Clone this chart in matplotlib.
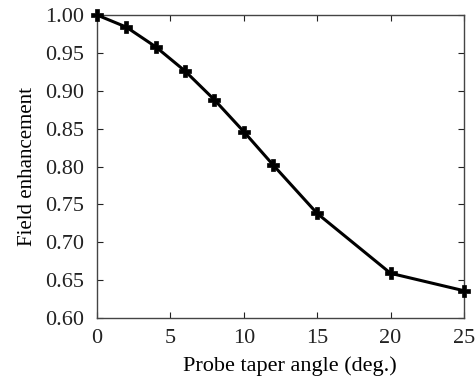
import matplotlib
matplotlib.use('Agg')
import matplotlib.pyplot as plt

# probe taper angle vs field enhancement
angle = [0, 2, 4, 6, 8, 10, 12, 15, 20, 25]
enhancement = [1.000, 0.984, 0.958, 0.926, 0.888, 0.846, 0.802, 0.738, 0.659, 0.636]

plt.rcParams['font.family'] = ['Liberation Serif', 'DejaVu Serif']

fig = plt.figure(figsize=(4.77, 3.77), dpi=100)
ax = fig.add_axes([97 / 477, 1 - 318 / 377, (464 - 97) / 477, (318 - 15) / 377])

ax.plot(angle, enhancement, color='black', linewidth=2.2, marker='P',
        markersize=8, markeredgewidth=0.5, clip_on=False, zorder=3)

ax.set_xlim(0, 25)
ax.set_ylim(0.60, 1.00)
ax.set_xticks([0, 5, 10, 15, 20, 25])
ax.set_yticks([0.60, 0.65, 0.70, 0.75, 0.80, 0.85, 0.90, 0.95, 1.00])
ax.set_yticklabels(['%.2f' % v for v in ax.get_yticks()])
ax.tick_params(direction='in', top=True, right=True, length=4, width=0.8,
               labelsize=16, colors='#222222')
ax.tick_params(axis='y', pad=9)
ax.tick_params(axis='x', pad=8)
for s in ax.spines.values():
    s.set_color('#444444')
    s.set_linewidth(1.0)

ax.set_xlabel('Probe taper angle (deg.)', fontsize=16)
ax.xaxis.set_label_coords(0.525, -0.125)
ax.set_ylabel('Field enhancement', fontsize=15, labelpad=6)

fig.savefig('out.png', dpi=100)
